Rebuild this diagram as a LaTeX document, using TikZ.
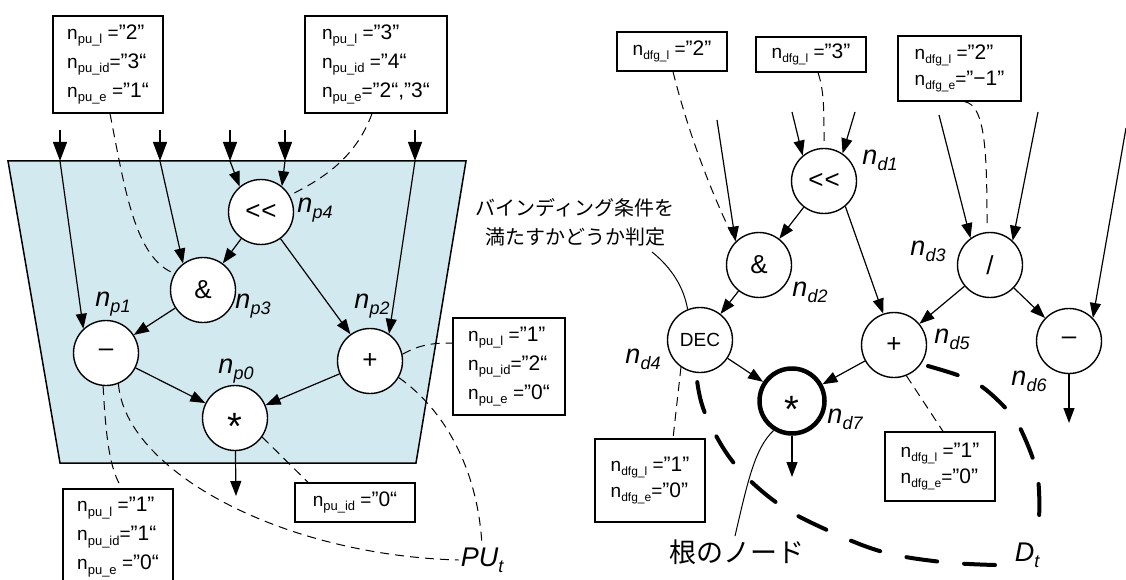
\documentclass[tikz,border=0pt]{standalone}
\usepackage{fontspec}
\setmainfont{Liberation Sans}
\newfontfamily\jpfont{Noto Sans CJK JP}
\usetikzlibrary{arrows.meta,calc}
\definecolor{publue}{RGB}{210,233,240}
% n with a lowered small subscript, as used in the attribute boxes
\newcommand{\nsub}[2][13]{n\raisebox{-0.45ex}{\fontsize{#1}{#1}\selectfont #2}}
% quoted attribute value, set a little larger than the names
\newcommand{\vq}[1]{{\fontsize{21}{21}\selectfont #1}}
% italic node names such as n_{p4}
\newcommand{\ntag}[2][n]{#1\raisebox{-0.4ex}{\fontsize{18}{18}\selectfont #2}}
% asterisk centred on the baseline
\newcommand{\astx}{{\fontsize{38}{38}\selectfont\raisebox{-0.57em}[0pt][0pt]{*}}}
% shift operator, two separate angle brackets
\newcommand{\shl}{<\kern1pt<}
\tikzset{
  op/.style={circle, draw, line width=1.4pt, fill=white, minimum size=65pt,
    inner sep=0pt, font=\fontsize{26}{26}\selectfont},
  rootop/.style={op, line width=4.5pt},
  tag/.style={font=\fontsize{27}{27}\selectfont\itshape, inner sep=2pt},
  info/.style={draw, line width=1.3pt, fill=white, align=left, inner sep=0pt,
    font=\fontsize{19}{29}\selectfont},
  dinfo/.style={info, font=\fontsize{19}{26}\selectfont},
  flow/.style={line width=1.2pt, -{Triangle[length=15pt,width=11pt]}},
  inflow/.style={line width=1.2pt, -{Triangle[length=19pt,width=14pt]}},
  memo/.style={line width=1pt, dash pattern=on 9pt off 6pt},
  lead/.style={line width=1pt},
  region/.style={line width=4pt, line cap=round, dash pattern=on 31pt off 27pt},
}
\begin{document}
\begin{tikzpicture}[x=1pt,y=-1pt]
\useasboundingbox (0,0) rectangle (1126,580);

% ---------------- processing unit PU_t ----------------
\draw[line width=1.5pt, fill=publue] (8,161) -- (466,161) -- (416,463) -- (60,463) -- cycle;

\node[op] (np4) at (261,212) {\shl};
\node[op] (np3) at (203,290) {\&};
\node[op] (np1) at (106,353) {–};
\node[op] (np2) at (370,361) {+};
\node[op] (np0) at (235,418) {\astx};

\node[tag] at (315,210) {\ntag{p4}};
\node[tag] at (253,306) {\ntag{p3}};
\node[tag] at (113,304) {\ntag{p1}};
\node[tag] at (372,306) {\ntag{p2}};
\node[tag] at (236,371) {\ntag{p0}};

% inputs entering the unit
\coordinate (s1) at (60,130);  \coordinate (e1) at (60,161);
\coordinate (s2) at (160,130); \coordinate (e2) at (160,161);
\coordinate (s3) at (230,130); \coordinate (e3) at (230,161);
\coordinate (s4) at (285,130); \coordinate (e4) at (285,161);
\coordinate (s5) at (415,130); \coordinate (e5) at (415,161);
\foreach \i in {1,...,5} \draw[inflow] (s\i) -- (e\i);
\draw[flow] (e1) -- (np1.133);
\draw[flow] (e2) -- (np3.127);
\draw[flow] (e3) -- (np4.130);
\draw[flow] (e4) -- (np4.51);
\draw[flow] (e5) -- (np2.55);

\draw[flow] (np4) -- (np3);
\draw[flow] (np4) -- (np2);
\draw[flow] (np3) -- (np1);
\draw[flow] (np1) -- (np0);
\draw[flow] (np2) -- (np0);
\coordinate (pout) at (236,496);
\draw[flow] (np0) -- (pout);

% attribute boxes of the unit
\node[info, minimum width=110pt, minimum height=97pt] (b1) at (108,64.5)
  {\nsub{pu\_l} =\vq{”2”}\\\nsub{pu\_id}=\vq{”3“}\\\nsub{pu\_e} =\vq{”1“}};
\node[info, minimum width=142pt, minimum height=97pt] (b2) at (376,64.5)
  {\nsub{pu\_l} =\vq{”3”}\\\nsub{pu\_id} =\vq{”4“}\\\nsub{pu\_e}=\vq{”2“,”3“}};
\node[info, minimum width=112pt, minimum height=97pt] (b3) at (509,366.5)
  {\nsub{pu\_l} =\vq{”1”}\\\nsub{pu\_id}=\vq{”2“}\\\nsub{pu\_e} =\vq{”0“}};
\node[info, minimum width=110pt, minimum height=96pt] (b4) at (118,537)
  {\nsub{pu\_l} =\vq{”1”}\\\nsub{pu\_id}=\vq{”1“}\\\nsub{pu\_e} =\vq{”0“}};
\node[info, minimum width=120pt, minimum height=39pt] (b5) at (355,502.5)
  {\nsub{pu\_id} =\vq{”0“}};

\node[tag] (PU) at (482,560) {\ntag[PU]{t}};

\draw[memo] ($(b1.south)+(2,0)$) .. controls (125,190) and (135,258) .. (np3.150);
\draw[memo] ($(b2.south)+(-4,0)$) .. controls (355,160) and (320,180) .. (np4.30);
\draw[memo] (np2.12) .. controls (420,345) and (430,343) .. ($(b3.west)+(0,-23.5)$);
\draw[memo] (np2.-30) .. controls (445,410) and (478,470) .. (PU.north);
\draw[memo] (np1.-95) .. controls (106,440) and (110,470) .. ($(b4.north)+(4,0)$);
\draw[memo] (np1.-68) .. controls (125,470) and (280,555) .. (PU.west);
\draw[memo] (np0.-35) -- ($(b5.north)+(-47,0)$);

% ---------------- data-flow graph D_t ----------------
\node[op] (nd1) at (824,181) {\shl};
\node[op] (nd2) at (759,265) {\&};
\node[op, font=\fontsize{19}{19}\selectfont] (nd4) at (700,340) {DEC};
\node[op] (nd3) at (990,265) {/};
\node[op] (nd5) at (894,345) {+};
\node[op] (nd6) at (1069,341) {–};
\node[rootop] (nd7) at (792,401) {\astx};

\node[tag] at (880,160) {\ntag{d1}};
\node[tag] at (810,292) {\ntag{d2}};
\node[tag] at (643,359) {\ntag{d4}};
\node[tag] at (928,251) {\ntag{d3}};
\node[tag] at (952,339) {\ntag{d5}};
\node[tag] at (1029,381) {\ntag{d6}};
\node[tag] at (845,419) {\ntag{d7}};

\coordinate (t1) at (792,112);
\coordinate (t2) at (855,112);
\coordinate (t3) at (717,120);
\coordinate (t4) at (939,115);
\coordinate (t5) at (1038,112);
\coordinate (t6) at (1126,128);
\draw[flow] (t1) -- (nd1.130);
\draw[flow] (t2) -- (nd1.56);
\draw[flow] (t3) -- (nd2.135);
\draw[flow] (t4) -- (nd3.126);
\draw[flow] (t5) -- (nd3.47);
\draw[flow] (t6) -- (nd6.44);

\draw[flow] (nd1) -- (nd2);
\draw[flow] (nd1.-50) -- (nd5.109);
\draw[flow] (nd2) -- (nd4);
\draw[flow] (nd3) -- (nd5);
\draw[flow] (nd3) -- (nd6);
\draw[flow] (nd4) -- (nd7);
\draw[flow] (nd5) -- (nd7);
\coordinate (d6out) at (1069,423);
\coordinate (d7out) at (792,477);
\draw[flow] (nd6) -- (d6out);
\draw[flow] (nd7) -- (d7out);

% attribute boxes of the graph
\node[dinfo, minimum width=110pt, minimum height=39pt] (r1) at (672,51.5)
  {\nsub[12]{dfg\_l} =\vq{”2”}};
\node[dinfo, minimum width=110pt, minimum height=35pt] (r2) at (811,54.5)
  {\nsub[12]{dfg\_l} =\vq{”3”}};
\node[dinfo, minimum width=123pt, minimum height=65pt] (r3) at (959.5,68.5)
  {\nsub[12]{dfg\_l} =\vq{”2”}\\\nsub[12]{dfg\_e}=\vq{”−1”}};
\node[dinfo, minimum width=110pt, minimum height=83pt] (r4) at (650,480.5)
  {\nsub[12]{dfg\_l} =\vq{”1”}\\\nsub[12]{dfg\_e}=\vq{”0”}};
\node[dinfo, minimum width=110pt, minimum height=69pt] (r5) at (940,466.5)
  {\nsub[12]{dfg\_l} =\vq{”1”}\\\nsub[12]{dfg\_e}=\vq{”0”}};

\draw[memo] ($(r1.south)+(1,0)$) .. controls (690,140) and (715,200) .. ($(nd2.center)+(-27,-30)$);
\draw[memo] ($(r2.south)+(7,0)$) .. controls (824,90) and (824,110) .. ($(nd1.north)+(0,-7)$);
\draw[memo] ($(r3.south)+(5,0)$) .. controls (985,105) and (987,150) .. ($(nd3.north)+(-3,-8)$);
\draw[memo] (nd4.-125) -- ($(r4.north)+(23,0)$);
\draw[memo] (nd5.-68) -- ($(r5.north)+(3,0)$);

% region enclosing the part of the graph bound to the unit
\draw[region] plot[smooth, tension=0.6] coordinates
  {(928,366) (963,377) (985,389) (1010,413) (1022,432) (1035,465) (1039,490) (1039,525)};
\draw[region] plot[smooth, tension=0.6] coordinates
  {(995,565) (942,562) (883,552) (827,530) (777,503) (733,462) (705,413) (697,380)};
\node[tag] (Dt) at (1027,555) {\ntag[D]{t}};

% explanatory notes
\node[font=\jpfont\fontsize{20}{29}\selectfont, align=center] (bind) at (575,222)
  {バインディング条件を\\満たすかどうか判定};
\coordinate (bindfoot) at (652,252);
\draw[lead] (bindfoot) .. controls (672,268) and (684,288) .. (nd4.112);

\node[font=\jpfont\fontsize{27}{27}\selectfont] (rootlbl) at (737,552) {根のノード};
\draw[lead] ($(rootlbl.north)+(-2,0)$) .. controls (748,480) and (755,448) .. (nd7.-122);
\end{tikzpicture}
\end{document}
